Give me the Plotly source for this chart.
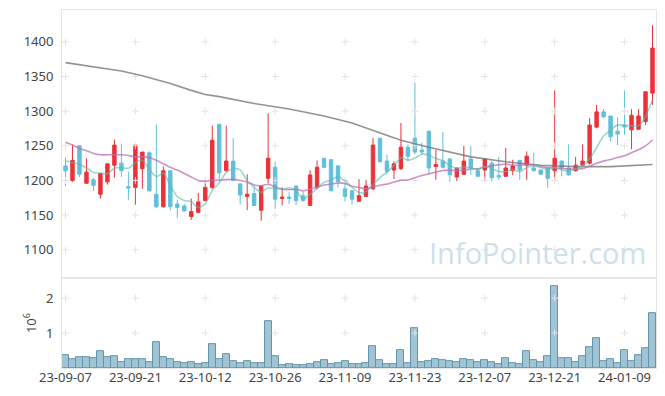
import pandas as pd
import plotly.graph_objects as go
from plotly.subplots import make_subplots

# ---- data -------------------------------------------------------------
holidays = ["2023-09-28", "2023-09-29", "2023-10-02", "2023-10-03", "2023-10-09",
            "2023-12-25", "2023-12-29", "2024-01-01"]
dates = pd.bdate_range("2023-09-07", "2024-01-15", freq="C", holidays=holidays)
date_labels = [d.strftime("%y-%m-%d") for d in dates]

open_ = [1221, 1200, 1250, 1196, 1201, 1180, 1198, 1222, 1225, 1191,
         1190, 1217, 1240, 1180, 1162, 1214, 1166, 1163, 1148, 1154,
         1171, 1190, 1281, 1214, 1228, 1195, 1177, 1181, 1157, 1203,
         1219, 1174, 1176, 1192, 1178, 1164, 1190, 1232, 1230, 1221,
         1188, 1185, 1170, 1177, 1188, 1261, 1228, 1215, 1217, 1248,
         1261, 1244, 1271, 1220, 1228, 1231, 1205, 1209, 1231, 1214,
         1215, 1225, 1207, 1206, 1214, 1229, 1222, 1218, 1215, 1218,
         1214, 1228, 1218, 1214, 1222, 1225, 1277, 1299, 1293, 1271,
         1280, 1273, 1274, 1285, 1326]
high = [1233, 1252, 1251, 1232, 1204, 1211, 1224, 1259, 1253, 1213,
        1252, 1241, 1242, 1281, 1220, 1214, 1172, 1166, 1174, 1182,
        1199, 1279, 1281, 1279, 1261, 1196, 1209, 1191, 1193, 1297,
        1227, 1190, 1183, 1193, 1184, 1215, 1229, 1232, 1230, 1222,
        1196, 1186, 1202, 1201, 1261, 1261, 1237, 1228, 1283, 1252,
        1341, 1255, 1272, 1244, 1270, 1232, 1218, 1250, 1250, 1218,
        1232, 1228, 1234, 1247, 1230, 1229, 1242, 1240, 1216, 1218,
        1330, 1229, 1252, 1234, 1252, 1290, 1309, 1303, 1293, 1291,
        1330, 1303, 1303, 1328, 1424]
low = [1192, 1198, 1205, 1195, 1185, 1174, 1194, 1204, 1205, 1172,
       1165, 1188, 1184, 1160, 1161, 1157, 1146, 1155, 1143, 1153,
       1170, 1188, 1200, 1213, 1199, 1165, 1157, 1163, 1142, 1196,
       1159, 1164, 1166, 1164, 1169, 1163, 1187, 1218, 1185, 1190,
       1170, 1165, 1169, 1176, 1186, 1226, 1208, 1202, 1215, 1228,
       1238, 1237, 1210, 1201, 1217, 1198, 1199, 1208, 1208, 1205,
       1199, 1199, 1201, 1205, 1208, 1201, 1201, 1213, 1208, 1189,
       1201, 1206, 1207, 1213, 1221, 1223, 1275, 1290, 1256, 1251,
       1266, 1245, 1273, 1280, 1309]
close = [1214, 1229, 1209, 1212, 1193, 1210, 1224, 1251, 1214, 1189,
         1251, 1241, 1185, 1162, 1214, 1162, 1161, 1156, 1155, 1169,
         1190, 1258, 1211, 1228, 1200, 1179, 1180, 1164, 1192, 1232,
         1173, 1176, 1174, 1171, 1171, 1208, 1219, 1219, 1185, 1198,
         1177, 1173, 1178, 1192, 1251, 1227, 1213, 1224, 1248, 1235,
         1241, 1241, 1218, 1223, 1219, 1208, 1218, 1228, 1218, 1206,
         1231, 1204, 1205, 1218, 1221, 1215, 1235, 1214, 1209, 1203,
         1232, 1218, 1208, 1222, 1228, 1280, 1299, 1292, 1263, 1267,
         1277, 1294, 1293, 1328, 1391]
volume = [0.37, 0.26, 0.31, 0.31, 0.28, 0.49, 0.31, 0.34, 0.18, 0.26,
          0.26, 0.26, 0.18, 0.74, 0.31, 0.26, 0.18, 0.14, 0.17, 0.11,
          0.14, 0.69, 0.26, 0.40, 0.20, 0.14, 0.20, 0.14, 0.14, 1.34,
          0.34, 0.08, 0.11, 0.08, 0.08, 0.11, 0.17, 0.23, 0.11, 0.14,
          0.20, 0.11, 0.11, 0.14, 0.63, 0.23, 0.11, 0.11, 0.51, 0.14,
          1.14, 0.17, 0.20, 0.26, 0.23, 0.20, 0.17, 0.26, 0.23, 0.17,
          0.23, 0.17, 0.11, 0.28, 0.14, 0.11, 0.48, 0.23, 0.17, 0.34,
          2.35, 0.28, 0.28, 0.17, 0.34, 0.60, 0.86, 0.20, 0.26, 0.14,
          0.51, 0.20, 0.37, 0.57, 1.57]
volume = [v * 1e6 for v in volume]

# moving-average values before enough visible closes exist
ma5_head = [1228, 1226, 1223, 1218]
ma20_head = [1255, 1251, 1246, 1243, 1239, 1237, 1237, 1237, 1237, 1236,
             1234, 1234, 1233, 1229, 1224, 1219, 1215, 1210, 1205]
# long moving average, read at sample bars
ma60_idx = [0, 2, 5, 8, 11, 15, 18, 20, 22, 27, 32, 37, 41, 44, 48, 52, 54,
            58, 63, 68, 73, 78, 84]
ma60_val = [1370, 1367, 1362, 1358, 1351, 1340, 1330, 1324, 1321, 1311, 1303,
            1293, 1283, 1272, 1258, 1248, 1243, 1234, 1227, 1222, 1220, 1220, 1223]

price_ticks = [1100, 1150, 1200, 1250, 1300, 1350, 1400]
vol_ticks = [1e6, 2e6]
vol_tick_text = ["1", "2"]
tick_every = 10


def rolling(vals, w, head):
    out = list(head)
    for i in range(len(head), len(vals)):
        out.append(sum(vals[i - w + 1:i + 1]) / w)
    return out


ma5 = rolling(close, 5, ma5_head)
ma20 = rolling(close, 20, ma20_head)

x = list(range(len(date_labels)))
tickvals = x[::tick_every]
ticktext = date_labels[::tick_every]

RED = "#ee3038"
BLUE = "#62bfd9"

fig = make_subplots(rows=2, cols=1, shared_xaxes=True, vertical_spacing=0,
                    row_heights=[0.749, 0.251])

# grid crosses
cross = dict(symbol="cross-thin", size=5, line=dict(color="#e3e3e3", width=1))
gx, gy = [], []
for tv in tickvals:
    for pv in price_ticks:
        gx.append(tv)
        gy.append(pv)
fig.add_trace(go.Scatter(x=gx, y=gy, mode="markers", hoverinfo="skip",
                         marker=cross), row=1, col=1)
vx, vy = [], []
for tv in tickvals:
    for pv in vol_ticks:
        vx.append(tv)
        vy.append(pv)
fig.add_trace(go.Scatter(x=vx, y=vy, mode="markers", hoverinfo="skip",
                         marker=cross), row=2, col=1)

fig.add_trace(go.Scatter(x=ma60_idx, y=ma60_val, mode="lines",
                         line=dict(color="rgba(120,120,120,0.8)", width=1.6)),
              row=1, col=1)
fig.add_trace(go.Scatter(x=x, y=ma20, mode="lines",
                         line=dict(color="rgba(190,110,185,0.75)", width=1.6,
                                   shape="spline", smoothing=0.6)),
              row=1, col=1)
fig.add_trace(go.Scatter(x=x, y=ma5, mode="lines",
                         line=dict(color="rgba(90,185,170,0.6)", width=1.6,
                                   shape="spline", smoothing=0.6)),
              row=1, col=1)

fig.add_trace(go.Candlestick(
    x=x, open=open_, high=high, low=low, close=close,
    increasing=dict(line=dict(color=RED, width=1), fillcolor=RED),
    decreasing=dict(line=dict(color=BLUE, width=1), fillcolor=BLUE),
    whiskerwidth=0), row=1, col=1)

fig.add_trace(go.Bar(x=x, y=volume, marker=dict(color="rgba(128,176,198,0.75)",
                                                line=dict(color="#6394ab", width=1))),
              row=2, col=1)

axis_font = dict(family="Noto Sans", size=13, color="#444")
fig.update_layout(
    width=665, height=396,
    margin=dict(l=61.5, r=9, t=10, b=28, autoexpand=False),
    paper_bgcolor="white", plot_bgcolor="white",
    showlegend=False, bargap=0,
    font=axis_font,
)
fig.update_xaxes(range=[-0.5, len(x) - 0.5], showgrid=False, zeroline=False,
                 showline=True, mirror=True, linecolor="#e6e6e6", linewidth=1,
                 tickvals=tickvals, ticktext=ticktext, ticks="",
                 automargin=False, rangeslider_visible=False)
fig.update_xaxes(showticklabels=False, row=1, col=1)
fig.update_xaxes(showticklabels=True, tickfont=axis_font, ticklabelstandoff=-3,
                 row=2, col=1)
fig.update_yaxes(range=[1059, 1446], tickvals=price_ticks, showgrid=False,
                 zeroline=False, showline=True, mirror=True, linecolor="#e6e6e6",
                 ticks="", tickfont=axis_font, automargin=False,
                 ticklabelstandoff=5, row=1, col=1)
fig.update_yaxes(range=[0, 2.57e6], tickvals=vol_ticks, ticktext=vol_tick_text,
                 showgrid=False, zeroline=False, showline=True, mirror=True,
                 linecolor="#e6e6e6", ticks="", tickfont=axis_font,
                 automargin=False, ticklabelstandoff=5,
                 title=dict(text="10<sup>6</sup>", font=axis_font, standoff=6),
                 row=2, col=1)

fig.add_annotation(text="InfoPointer.com", xref="paper", yref="paper",
                   x=0.987, y=0.322, xanchor="right", yanchor="middle",
                   showarrow=False,
                   font=dict(family="Open Sans", size=29, color="#cddfe9"))

# the page body has a default margin; remove it so the figure sits at (0,0)
fig.write_html("out.html", config={"displayModeBar": False},
               post_script="document.body.style.margin='0';")
